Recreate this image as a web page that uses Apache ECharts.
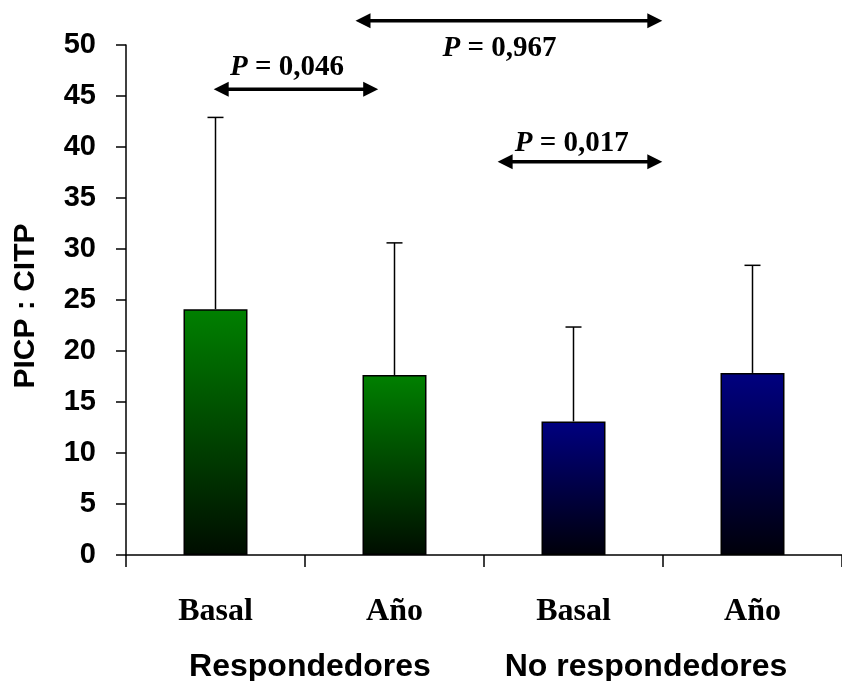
<!DOCTYPE html>
<html>
<head>
<meta charset="utf-8">
<script src="https://cdn.jsdelivr.net/npm/echarts@6/dist/echarts.min.js"></script>
<style>html,body{margin:0;padding:0;background:#fff;}#c{width:842px;height:681px;}</style>
</head>
<body>
<div id="c"></div>
<script>
// ---- data ----
const categories = ['Basal', 'Año', 'Basal', 'Año'];
const meanValues = [24.1, 17.65, 13.1, 17.85];
const upperValues = [42.9, 30.6, 22.35, 28.4];
const groupNames = ['Respondedores', 'No respondedores'];
const yMin = 0, yMax = 50, yStep = 5;
const pTexts = ['0,046', '0,017', '0,967'];
const arrowFrom = [-0.01, 1.576, 0.782];
const arrowTo = [0.909, 2.496, 2.496];
const arrowLevel = [45.66, 38.56, 52.38];
const pTextX = [0.40, 1.99, 1.587];
const pTextY = [47.8, 40.3, 49.7];

const chart = echarts.init(document.getElementById('c'), null, {renderer: 'canvas'});

const greenGrad = new echarts.graphic.LinearGradient(0, 0, 0, 1, [
  {offset: 0, color: '#008000'}, {offset: 1, color: '#000d00'}]);
const blueGrad = new echarts.graphic.LinearGradient(0, 0, 0, 1, [
  {offset: 0, color: '#000080'}, {offset: 1, color: '#00000a'}]);

const option = {
  animation: false,
  backgroundColor: '#fff',
  grid: {left: 126, top: 45, width: 726, height: 510, containLabel: false},
  xAxis: [{
    type: 'category',
    data: categories,
    axisLine: {onZero: false, lineStyle: {color: '#000', width: 1.5}},
    axisTick: {show: true, length: 12, lineStyle: {color: '#000', width: 1.5}},
    axisLabel: {margin: 41, color: '#000', fontFamily: '"Liberation Serif"', fontWeight: 'bold', fontSize: 32},
    splitLine: {show: false}
  }, {
    type: 'value', min: -0.5, max: 3.5, show: false
  }],
  yAxis: {
    type: 'value', min: yMin, max: yMax, interval: yStep,
    axisLine: {show: true, onZero: false, lineStyle: {color: '#000', width: 1.5}},
    axisTick: {show: true, length: 10, lineStyle: {color: '#000', width: 1.5}},
    axisLabel: {margin: 30, color: '#000', fontFamily: '"Liberation Sans"', fontWeight: 'bold', fontSize: 29},
    splitLine: {show: false}
  },
  graphic: [
    {type: 'text', x: 26, y: 306, rotation: Math.PI / 2,
      style: {text: 'PICP : CITP', align: 'center', verticalAlign: 'middle', fill: '#000',
        font: 'bold 30px "Liberation Sans"'}},
    {type: 'text', x: 310, y: 667,
      style: {text: groupNames[0], align: 'center', verticalAlign: 'middle', fill: '#000',
        font: 'bold 32px "Liberation Sans"'}},
    {type: 'text', x: 646, y: 667,
      style: {text: groupNames[1], align: 'center', verticalAlign: 'middle', fill: '#000',
        font: 'bold 32px "Liberation Sans"'}}
  ],
  series: [{
    type: 'bar',
    barWidth: 64,
    data: meanValues.map((v, i) => ({
      value: v,
      itemStyle: {color: i < 2 ? greenGrad : blueGrad, borderColor: '#000', borderWidth: 1.5}
    })),
    z: 2
  }, {
    type: 'custom',
    xAxisIndex: 0,
    z: 3,
    data: upperValues.map((u, i) => [i, meanValues[i], u]),
    renderItem: function (params, api) {
      const base = api.coord([api.value(0), api.value(1)]);
      const top = api.coord([api.value(0), api.value(2)]);
      const st = {stroke: '#000', lineWidth: 1.5};
      return {type: 'group', children: [
        {type: 'line', shape: {x1: base[0], y1: base[1], x2: top[0], y2: top[1]}, style: st},
        {type: 'line', shape: {x1: top[0] - 8, y1: top[1], x2: top[0] + 8, y2: top[1]}, style: st}
      ]};
    }
  }, {
    type: 'custom',
    xAxisIndex: 1,
    z: 4,
    clip: false,
    data: arrowLevel.map((y, i) => [arrowFrom[i], y, arrowTo[i], pTextX[i], pTextY[i]]),
    renderItem: function (params, api) {
      const i = params.dataIndex;
      const p1 = api.coord([api.value(0), api.value(1)]);
      const p2 = api.coord([api.value(2), api.value(1)]);
      const t = api.coord([api.value(3), api.value(4)]);
      const hl = 15, hw = 7.5;
      const y = p1[1];
      return {type: 'group', children: [
        {type: 'line', shape: {x1: p1[0] + hl - 2, y1: y, x2: p2[0] - hl + 2, y2: y},
          style: {stroke: '#000', lineWidth: 3.5}},
        {type: 'polygon', shape: {points: [[p1[0], y], [p1[0] + hl, y - hw], [p1[0] + hl, y + hw]]},
          style: {fill: '#000'}},
        {type: 'polygon', shape: {points: [[p2[0], y], [p2[0] - hl, y - hw], [p2[0] - hl, y + hw]]},
          style: {fill: '#000'}},
        {type: 'text', x: t[0], y: t[1],
          style: {text: '{i|P}{n| = ' + pTexts[i] + '}', align: 'center', verticalAlign: 'middle',
            fill: '#000', fontFamily: '"Liberation Serif"', fontWeight: 'bold', fontSize: 29,
            rich: {
              i: {fontFamily: '"Liberation Serif"', fontWeight: 'bold', fontStyle: 'italic', fontSize: 29, fill: '#000'},
              n: {fontFamily: '"Liberation Serif"', fontWeight: 'bold', fontSize: 29, fill: '#000'}
            }}}
      ]};
    }
  }]
};
chart.setOption(option);
</script>
</body>
</html>
